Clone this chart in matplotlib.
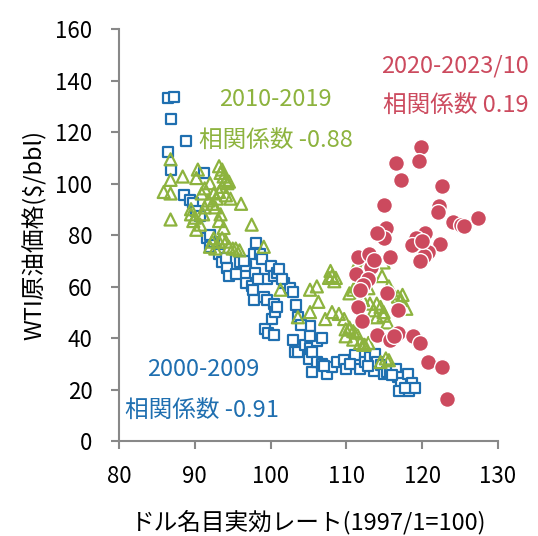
import matplotlib
matplotlib.use("Agg")
import matplotlib.pyplot as plt

plt.rcParams['font.family'] = ['Noto Sans CJK JP', 'DejaVu Sans']

# 2000-2009 (blue squares)
x_0009 = [86.4, 87.2, 86.8, 88.8, 86.4, 86.8, 91.2, 88.6, 89.3, 89.8, 90.2, 90.7,
          91.6, 92.0, 92.5, 93.2, 93.6, 94.1, 94.3, 94.5, 95.4, 95.9, 96.8, 96.8,
          97.5, 97.7, 97.9, 97.8, 97.8, 98.1, 98.6, 98.8, 99.5, 100.0, 100.4, 100.9,
          101.1, 99.1, 99.5, 99.3, 99.7, 100.2, 100.4, 100.4, 100.6, 100.9, 101.8, 102.5,
          102.9, 103.4, 103.6, 102.9, 103.2, 103.6, 104.5, 105.0, 105.2, 105.4, 106.1, 106.8,
          105.2, 105.2, 105.4, 106.1, 106.8, 107.5, 108.1, 108.8, 109.7, 109.9, 111.1, 111.8,
          112.4, 113.1, 113.6, 113.8, 114.0, 114.5, 114.9, 115.4, 115.8, 116.5, 116.8, 117.2,
          117.0, 118.1, 118.6, 118.3, 119.0, 92.0, 96.5, 101.5, 107.0, 110.5, 112.9, 116.0,
          117.7, 104.0, 98.3]
y_0009 = [133.3, 133.8, 125.3, 116.6, 112.4, 105.2, 104.2, 95.5, 93.5, 92.5, 89.5, 87.5,
          78.8, 75.5, 77.5, 72.8, 69.4, 71.0, 67.4, 64.0, 64.8, 69.4, 68.1, 61.4,
          60.1, 58.8, 65.4, 54.8, 72.8, 76.8, 72.8, 70.8, 62.8, 68.1, 64.1, 65.4,
          66.8, 56.1, 54.8, 43.4, 42.1, 47.4, 41.4, 53.4, 50.1, 52.0, 61.4, 59.4,
          58.1, 52.8, 48.1, 39.4, 34.7, 34.7, 37.4, 32.0, 36.0, 34.7, 38.7, 40.0,
          44.7, 40.7, 26.7, 30.7, 30.0, 26.0, 28.7, 30.7, 31.4, 28.0, 33.4, 28.0,
          30.7, 32.7, 27.4, 34.0, 30.7, 29.4, 26.0, 26.7, 27.4, 28.0, 24.7, 22.7,
          19.4, 26.0, 22.7, 19.4, 20.7, 80.0, 70.0, 63.0, 29.0, 30.0, 29.0, 25.5,
          20.5, 45.0, 63.0]

# 2010-2019 (green triangles)
x_1019 = [86.8, 85.9, 86.8, 86.8, 86.8, 88.4, 89.5, 89.8, 90.2, 90.0, 89.5, 90.4,
          90.2, 90.9, 91.3, 91.8, 92.0, 92.3, 91.3, 91.1, 90.7, 93.2, 93.4, 93.6,
          93.8, 94.1, 94.3, 94.5, 93.6, 93.2, 92.5, 92.9, 94.7, 94.1, 92.7, 93.4,
          93.2, 93.8, 93.6, 94.1, 93.2, 92.5, 92.0, 92.3, 92.7, 96.1, 97.5, 95.9,
          95.4, 95.0, 99.1, 94.5, 101.3, 103.6, 105.2, 105.2, 106.1, 106.3, 107.9, 108.1,
          107.7, 108.4, 108.6, 107.2, 108.1, 109.0, 109.7, 109.9, 109.9, 110.4, 110.9, 111.3,
          111.8, 112.4, 112.9, 114.5, 115.2, 110.4, 110.9, 111.3, 112.2, 112.9, 112.2, 113.1,
          114.0, 113.6, 114.5, 114.7, 114.9, 115.4, 115.6, 116.1, 116.8, 117.2, 117.4, 117.9,
          114.0, 114.9, 111.3, 112.2, 114.9, 110.4, 110.9, 112.2, 115.6]
y_1019 = [109.5, 96.8, 96.2, 101.5, 86.1, 102.8, 90.1, 85.5, 82.1, 86.8, 88.1, 105.5,
          102.2, 96.2, 98.2, 93.5, 100.2, 92.2, 90.8, 88.1, 84.1, 106.8, 104.2, 105.5,
          102.8, 101.5, 100.2, 100.8, 98.8, 96.8, 96.2, 94.2, 94.2, 95.5, 90.8, 88.1,
          85.5, 82.8, 78.8, 77.5, 77.5, 78.8, 75.5, 77.5, 74.8, 92.2, 84.1, 74.1,
          74.8, 74.8, 75.5, 75.5, 58.8, 48.1, 50.1, 58.8, 60.1, 54.1, 66.1, 64.1,
          63.4, 62.1, 63.4, 47.4, 50.1, 49.4, 47.4, 43.4, 40.7, 44.1, 42.7, 42.1,
          38.1, 37.4, 38.1, 30.7, 32.1, 57.4, 58.8, 60.1, 61.4, 59.4, 54.8, 53.4,
          53.4, 50.8, 52.1, 64.1, 50.1, 46.1, 60.1, 57.4, 56.1, 54.8, 56.8, 51.4,
          48.1, 48.7, 68.1, 67.4, 69.4, 43.4, 39.4, 37.4, 31.4]

# 2020-2023/10 (red circles)
x_2023 = [119.9, 119.6, 116.5, 117.2, 122.6, 115.0, 122.2, 122.1, 124.0, 125.1, 125.5, 127.4,
          115.2, 114.9, 114.0, 120.4, 119.2, 118.6, 122.4, 120.8, 120.3, 119.7, 115.8, 113.3,
          111.5, 113.2, 111.3, 112.9, 112.2, 111.8, 115.3, 111.5, 116.8, 112.0, 114.0, 115.8,
          116.8, 116.3, 118.8, 119.7, 120.8, 122.6, 123.3, 113.0, 113.6, 120.0]
y_2023 = [114.2, 109.0, 108.0, 101.5, 99.0, 91.7, 91.5, 89.0, 85.0, 84.0, 83.5, 86.8,
          82.8, 79.0, 81.0, 81.0, 79.0, 76.0, 76.4, 73.5, 72.0, 70.0, 71.5, 71.5,
          71.5, 67.5, 64.8, 62.8, 60.8, 58.8, 57.4, 52.0, 50.8, 46.7, 41.4, 39.4,
          42.0, 40.7, 40.7, 38.0, 30.7, 28.7, 16.4, 72.5, 70.2, 77.8]

xticks = [80, 90, 100, 110, 120, 130]
yticks = [0, 20, 40, 60, 80, 100, 120, 140, 160]

blue = '#1f6fb0'
green = '#8db33e'
red = '#cc4a5e'

fig = plt.figure(figsize=(5.38, 5.36), dpi=100)
ax = fig.add_axes([0.2212, 0.1772, 0.7045, 0.768])

ax.scatter(x_0009, y_0009, marker='s', s=55, facecolors='white', edgecolors=blue,
           linewidths=1.6, zorder=2)
ax.scatter(x_1019, y_1019, marker='^', s=75, facecolors='none', edgecolors=green,
           linewidths=1.6, zorder=3)
ax.scatter(x_2023, y_2023, marker='o', s=130, facecolors=red, edgecolors='white',
           linewidths=1.0, zorder=4)

ax.set_xlim(80, 130)
ax.set_ylim(0, 160)
ax.set_xticks(xticks)
ax.set_yticks(yticks)
ax.tick_params(direction='out', length=6, width=1.5, color='#888888', labelsize=16)
ax.tick_params(axis='y', pad=13)
ax.tick_params(axis='x', pad=11)
for s in ['top', 'right']:
    ax.spines[s].set_visible(False)
for s in ['left', 'bottom']:
    ax.spines[s].set_color('#888888')
    ax.spines[s].set_linewidth(1.5)

ax.set_xlabel('ドル名目実効レート(1997/1=100)', fontsize=17, labelpad=16)
ax.set_ylabel('WTI原油価格($/bbl)', fontsize=17, labelpad=6)

ax.text(100.6, 132.9, '2010-2019', color=green, fontsize=17, ha='center', va='center')
ax.text(100.7, 116.3, '相関係数 -0.88', color=green, fontsize=17, ha='center', va='center')
ax.text(124.3, 145.7, '2020-2023/10', color=red, fontsize=17, ha='center', va='center')
ax.text(124.4, 130.2, '相関係数 0.19', color=red, fontsize=17, ha='center', va='center')
ax.text(91.1, 27.9, '2000-2009', color=blue, fontsize=17, ha='center', va='center')
ax.text(91.0, 11.6, '相関係数 -0.91', color=blue, fontsize=17, ha='center', va='center')

fig.savefig('out.png', dpi=100)
